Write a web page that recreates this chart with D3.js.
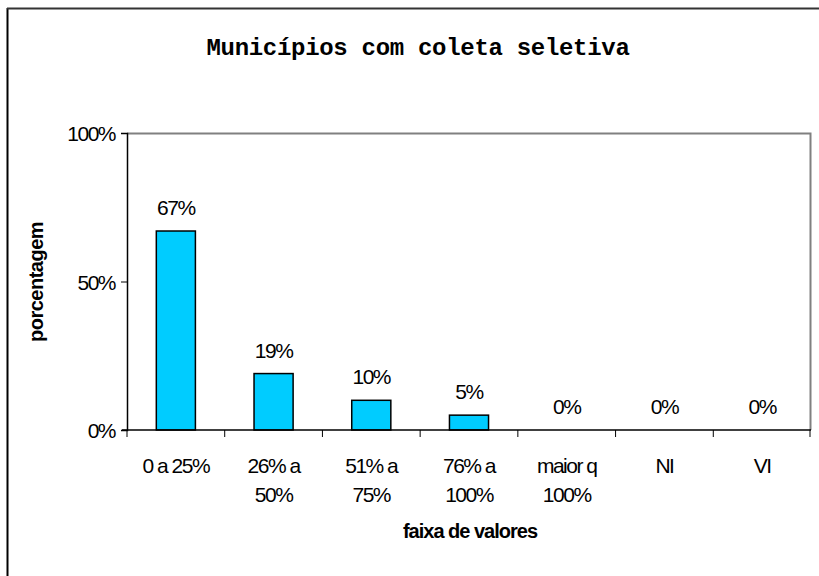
<!DOCTYPE html>
<html>
<head>
<meta charset="utf-8">
<script src="https://cdnjs.cloudflare.com/ajax/libs/d3/7.8.5/d3.min.js"></script>
<style>
  body { margin: 0; background: #fff; }
  text { font-family: "Liberation Sans", Arial, sans-serif; fill: #000; }
</style>
</head>
<body>
<script>
var width = 819;
var height = 576;

// data
var categories = ["0 a 25%", "26% a|50%", "51% a|75%", "76% a|100%", "maior q|100%", "NI", "VI"];
var values = [0.67, 0.19, 0.10, 0.05, 0, 0, 0];
var valueLabels = ["67%", "19%", "10%", "5%", "0%", "0%", "0%"];
var yTicks = [0, 0.5, 1];

// plot area (note: "top" is reserved on window, so use plot* names)
var plotLeft = 127, plotRight = 811, plotTop = 133, plotBottom = 430;

var svg = d3.select("body").append("svg")
  .attr("width", width)
  .attr("height", height);

// outer frame (runs off right and bottom)
svg.append("line")
  .attr("x1", 7.5).attr("x2", 7.5).attr("y1", 8).attr("y2", height)
  .attr("stroke", "#000").attr("stroke-width", 2);
svg.append("line")
  .attr("x1", 7).attr("x2", width).attr("y1", 8.5).attr("y2", 8.5)
  .attr("stroke", "#333").attr("stroke-width", 2);

svg.append("text")
  .attr("x", 418)
  .attr("y", 55)
  .attr("text-anchor", "middle")
  .style("font-family", "'Liberation Mono', 'Courier New', monospace")
  .style("font-weight", "bold")
  .style("font-size", "24px")
  .style("letter-spacing", "-0.3px")
  .text("Municípios com coleta seletiva");

var x = d3.scaleBand().domain(categories).range([plotLeft, plotRight]);
var y = d3.scaleLinear().domain([0, 1]).range([plotBottom, plotTop]);

// plot frame top and right
svg.append("path")
  .attr("d", "M" + plotLeft + "," + (plotTop + 0.5) + " L" + (plotRight - 0.5) + "," + (plotTop + 0.5) + " L" + (plotRight - 0.5) + "," + plotBottom)
  .attr("fill", "none")
  .attr("stroke", "#808080")
  .attr("stroke-width", 2);

// bars
svg.selectAll(".bar")
  .data(values)
  .enter().append("rect")
  .attr("class", "bar")
  .attr("x", function(d, i) { return x(categories[i]) + x.bandwidth() * 0.3; })
  .attr("width", x.bandwidth() * 0.4)
  .attr("y", function(d) { return y(d); })
  .attr("height", function(d) { return plotBottom - y(d); })
  .attr("fill", "#00ccff")
  .attr("stroke", "#000")
  .attr("stroke-width", function(d) { return d > 0 ? 1.5 : 0; });

// value labels
svg.selectAll(".vlabel")
  .data(values)
  .enter().append("text")
  .attr("class", "vlabel")
  .attr("x", function(d, i) { return x(categories[i]) + x.bandwidth() / 2; })
  .attr("y", function(d) { return y(d) - 16; })
  .attr("text-anchor", "middle")
  .style("font-size", "21px")
  .style("letter-spacing", "-1.5px")
  .text(function(d, i) { return valueLabels[i]; });

// y axis
var yAxis = svg.append("g")
  .attr("transform", "translate(" + plotLeft + ",0)")
  .call(d3.axisLeft(y).tickValues(yTicks).tickFormat(d3.format(".0%")).tickSize(6).tickPadding(6));
yAxis.select(".domain").attr("stroke-width", 1.5);
yAxis.selectAll("text")
  .style("font-size", "21px")
  .style("letter-spacing", "-1.5px")
  .style("font-family", "'Liberation Sans', Arial, sans-serif")
  .attr("dy", "0.36em");

// x axis
var xAxis = svg.append("g")
  .attr("transform", "translate(0," + plotBottom + ")");
xAxis.append("line")
  .attr("x1", plotLeft - 5).attr("x2", plotRight)
  .attr("stroke", "#000").attr("stroke-width", 1.5);
var bounds = categories.map(function(c) { return x(c); }).concat([plotRight - 1]);
xAxis.selectAll(".xtick")
  .data(bounds)
  .enter().append("line")
  .attr("x1", function(d) { return d; }).attr("x2", function(d) { return d; })
  .attr("y1", 0).attr("y2", 7)
  .attr("stroke", "#000");

var labels = xAxis.selectAll(".xlabel")
  .data(categories)
  .enter().append("text")
  .attr("text-anchor", "middle")
  .attr("x", function(d) { return x(d) + x.bandwidth() / 2; })
  .attr("y", 43)
  .style("font-size", "21px")
  .style("letter-spacing", "-1.5px");
labels.each(function(d) {
  var parts = d.split("|");
  var t = d3.select(this);
  parts.forEach(function(p, k) {
    t.append("tspan")
      .attr("x", x(d) + x.bandwidth() / 2)
      .attr("dy", k === 0 ? 0 : 29)
      .text(p);
  });
});

// axis titles
svg.append("text")
  .attr("x", 470)
  .attr("y", 538)
  .attr("text-anchor", "middle")
  .style("font-size", "20px")
  .style("font-weight", "bold")
  .style("letter-spacing", "-1px")
  .text("faixa de valores");

svg.append("text")
  .attr("transform", "translate(43,282) rotate(-90)")
  .attr("text-anchor", "middle")
  .style("font-size", "20px")
  .style("font-weight", "bold")
  .style("letter-spacing", "-0.5px")
  .text("porcentagem");
</script>
</body>
</html>
